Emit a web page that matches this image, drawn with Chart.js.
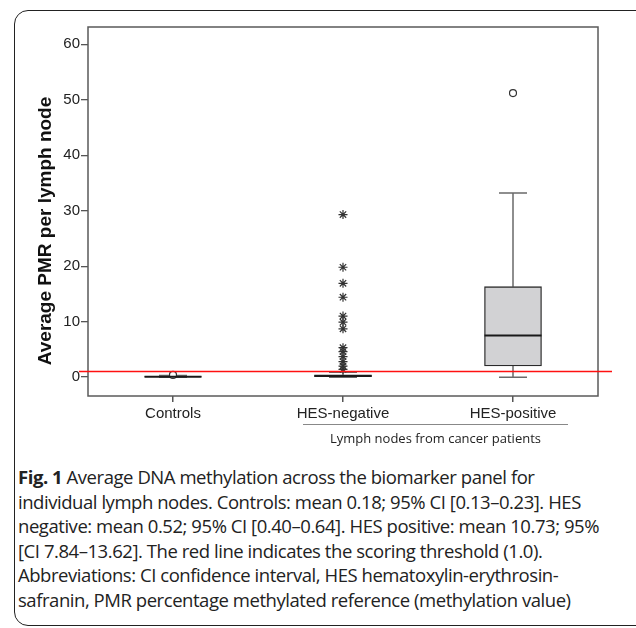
<!DOCTYPE html>
<html>
<head>
<meta charset="utf-8">
<script src="https://cdn.jsdelivr.net/npm/chart.js@4.4.1/dist/chart.umd.min.js"></script>
<style>
  html, body { margin: 0; padding: 0; background: #fff; }
  body { width: 636px; height: 628px; position: relative; overflow: hidden; }
  #frame {
    position: absolute; left: 14px; top: 10px; width: 640px; height: 614px;
    border: 1.5px solid #222; border-radius: 14px;
  }
  #wrap { position: absolute; left: 0; top: 0; width: 636px; height: 460px; }
  #groupLine { position: absolute; left: 303px; top: 424px; width: 265px; height: 0; border-top: 1.3px solid #888; }
  #groupLabel {
    position: absolute; left: 303px; top: 429px; width: 265px; text-align: center;
    font-family: "Open Sans", sans-serif; font-size: 13px; color: #222; white-space: nowrap;
  }
  #caption {
    position: absolute; left: 18px; top: 465px;
    font-family: "Open Sans", sans-serif; font-size: 18.5px; line-height: 24.6px;
    color: #222; white-space: nowrap; letter-spacing: -0.45px;
  }
  #caption b { font-weight: 700; }
</style>
</head>
<body>
<div id="frame"></div>
<div id="wrap"><canvas id="chart"></canvas></div>
<div id="groupLine"></div>
<div id="groupLabel">Lymph nodes from cancer patients</div>
<div id="caption"><b>Fig. 1</b> Average DNA methylation across the biomarker panel for<br>individual lymph nodes. Controls: mean 0.18; 95% CI [0.13–0.23]. HES<br>negative: mean 0.52; 95% CI [0.40–0.64]. HES positive: mean 10.73; 95%<br>[CI 7.84–13.62]. The red line indicates the scoring threshold (1.0).<br>Abbreviations: CI confidence interval, HES hematoxylin-erythrosin-<br>safranin, PMR percentage methylated reference (methylation value)</div>

<script>
// groups on the x axis
const categories = ['Controls', 'HES-negative', 'HES-positive'];

// box plot summaries per group (PMR)
const whiskerLow  = [0.0, 0.0, 0.0];
const q1          = [0.0, 0.1, 2.0];
const median      = [0.05, 0.2, 7.5];
const q3          = [0.15, 0.4, 16.3];
const whiskerHigh = [0.3, 0.9, 33.2];

// outliers: circles = mild, stars = extreme
const mildOutliers = [
  { x: 'Controls', y: 0.4 },
  { x: 'HES-positive', y: 51.2 }
];
const extremeOutliers = [
  { x: 'HES-negative', y: 29.3 },
  { x: 'HES-negative', y: 19.8 },
  { x: 'HES-negative', y: 16.9 },
  { x: 'HES-negative', y: 14.4 },
  { x: 'HES-negative', y: 11.0 },
  { x: 'HES-negative', y: 9.9 },
  { x: 'HES-negative', y: 8.7 },
  { x: 'HES-negative', y: 5.3 },
  { x: 'HES-negative', y: 4.6 },
  { x: 'HES-negative', y: 3.7 },
  { x: 'HES-negative', y: 2.8 },
  { x: 'HES-negative', y: 2.0 },
  { x: 'HES-negative', y: 1.4 }
];

const threshold = 1.0;
const yTicks = [0, 10, 20, 30, 40, 50, 60];
const yTitle = 'Average PMR per lymph node';

const axisFont = { family: '"Liberation Sans", Arial, sans-serif', size: 15 };

// whiskers under the boxes, medians + red threshold line over them
const boxExtras = {
  id: 'boxExtras',
  beforeDatasetsDraw(chart) {
    const { ctx, scales: { x, y } } = chart;
    ctx.save();
    ctx.strokeStyle = '#6a6a6a';
    ctx.lineWidth = 1.5;
    categories.forEach((c, i) => {
      const cx = x.getPixelForValue(i);
      const cap = 14;
      ctx.beginPath();
      ctx.moveTo(cx, y.getPixelForValue(whiskerLow[i]));
      ctx.lineTo(cx, y.getPixelForValue(q1[i]));
      ctx.moveTo(cx, y.getPixelForValue(q3[i]));
      ctx.lineTo(cx, y.getPixelForValue(whiskerHigh[i]));
      ctx.moveTo(cx - cap, y.getPixelForValue(whiskerLow[i]));
      ctx.lineTo(cx + cap, y.getPixelForValue(whiskerLow[i]));
      ctx.moveTo(cx - cap, y.getPixelForValue(whiskerHigh[i]));
      ctx.lineTo(cx + cap, y.getPixelForValue(whiskerHigh[i]));
      ctx.stroke();
    });
    ctx.restore();
  },
  afterDatasetsDraw(chart) {
    const { ctx, chartArea: a, scales: { x, y } } = chart;
    ctx.save();
    ctx.strokeStyle = '#1a1a1a';
    ctx.lineWidth = 2;
    categories.forEach((c, i) => {
      const cx = x.getPixelForValue(i);
      const my = y.getPixelForValue(median[i]);
      ctx.beginPath();
      ctx.moveTo(cx - 28.5, my);
      ctx.lineTo(cx + 28.5, my);
      ctx.stroke();
    });
    // plot frame
    ctx.strokeStyle = '#5a5a5a';
    ctx.lineWidth = 1.5;
    ctx.strokeRect(a.left, a.top, a.right - a.left, a.bottom - a.top);
    // threshold
    const ty = y.getPixelForValue(threshold);
    ctx.strokeStyle = '#ff1010';
    ctx.lineWidth = 1.5;
    ctx.beginPath();
    ctx.moveTo(a.left - 9, ty);
    ctx.lineTo(a.right + 14, ty);
    ctx.stroke();
    ctx.restore();
  },
  afterDraw(chart) {
    const { ctx } = chart;
    ctx.save();
    ctx.translate(46, 231);
    ctx.rotate(-Math.PI / 2);
    ctx.font = 'bold 19px "Liberation Sans", Arial, sans-serif';
    ctx.fillStyle = '#111';
    ctx.textAlign = 'center';
    ctx.textBaseline = 'middle';
    ctx.fillText(yTitle, 0, 0);
    ctx.restore();
  }
};

new Chart(document.getElementById('chart'), {
  data: {
    labels: categories,
    datasets: [
      {
        type: 'bar',
        data: q1.map((v, i) => [v, q3[i]]),
        backgroundColor: ['#9a9a80', '#d2d2d4', '#d2d2d4'],
        borderColor: ['#6e6e55', '#222', '#2a2a2a'],
        borderWidth: 1.3,
        borderSkipped: false,
        barThickness: 57,
        order: 2
      },
      {
        type: 'scatter',
        data: mildOutliers,
        pointStyle: 'circle',
        pointRadius: 3.5,
        pointBackgroundColor: '#fff',
        pointBorderColor: '#333',
        pointBorderWidth: 1.2,
        order: 1
      },
      {
        type: 'scatter',
        data: extremeOutliers,
        pointStyle: 'star',
        pointRadius: 4.5,
        pointBorderColor: '#333',
        pointBorderWidth: 1.2,
        order: 1
      }
    ]
  },
  options: {
    responsive: true,
    maintainAspectRatio: false,
    animation: false,
    events: [],
    layout: { padding: { top: 27, right: 38, left: 0, bottom: 24 } },
    plugins: { legend: { display: false }, tooltip: { enabled: false } },
    scales: {
      x: {
        type: 'category',
        offset: true,
        grid: { offset: false, drawOnChartArea: false, drawTicks: true, tickLength: 6, color: '#555', lineWidth: 1.5 },
        border: { display: false },
        ticks: { font: axisFont, color: '#222', padding: 3, maxRotation: 0 },
        afterFit(s) { s.height = 40; }
      },
      y: {
        min: -3.4,
        max: 63.1,
        grid: { drawOnChartArea: false, drawTicks: true, tickLength: 7, color: '#555', lineWidth: 1.3 },
        border: { display: false },
        ticks: { font: axisFont, color: '#222', padding: 1 },
        afterBuildTicks(s) { s.ticks = yTicks.map(v => ({ value: v })); },
        afterFit(s) { s.width = 88; }
      }
    }
  },
  plugins: [boxExtras]
});
</script>
</body>
</html>
